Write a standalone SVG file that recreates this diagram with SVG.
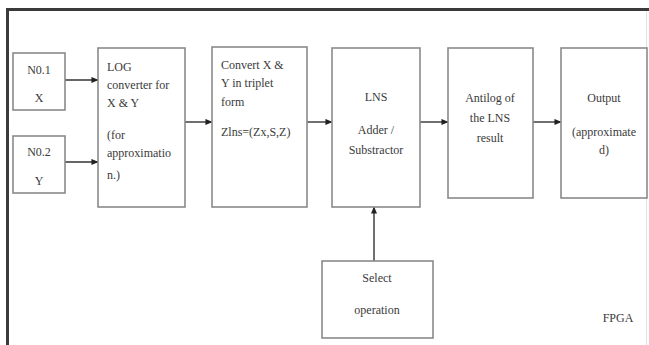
<svg xmlns="http://www.w3.org/2000/svg" width="649" height="345" viewBox="0 0 649 345">
<style>
.box{fill:#fff;stroke:#8a8a8a;stroke-width:1.6}
.t{font-family:"Liberation Serif","Times New Roman",serif;font-size:12px;fill:#3a3a3a}
.c{text-anchor:middle}
.ln{stroke:#333;stroke-width:1.4;fill:none;marker-end:url(#ah)}
</style>
<defs>
<marker id="ah" viewBox="0 0 8 8" refX="7.5" refY="4" markerWidth="7" markerHeight="7" markerUnits="userSpaceOnUse" orient="auto">
<path d="M0,0.5 L8,4 L0,7.5 Z" fill="#222"/>
</marker>
</defs>
<rect width="649" height="345" fill="#fff"/>
<g id="frame">
<path d="M7.5,345 V9.5 H649" fill="none" stroke="#3a3a3a" stroke-width="3"/>
<line x1="646.5" y1="11" x2="646.5" y2="345" stroke="#e2e2e2" stroke-width="1"/>
<text class="t c" x="618" y="322">FPGA</text>
</g>
<g id="connectors">
<line class="ln" x1="65" y1="80" x2="98" y2="80"/>
<line class="ln" x1="65" y1="162" x2="98" y2="162"/>
<line class="ln" x1="185" y1="122" x2="212" y2="122"/>
<line class="ln" x1="307" y1="122" x2="332" y2="122"/>
<line class="ln" x1="420" y1="122" x2="448" y2="122"/>
<line class="ln" x1="533" y1="122" x2="561" y2="122"/>
<line class="ln" x1="374" y1="261" x2="374" y2="207"/>
</g>
<g id="n1">
<rect class="box" x="13" y="53" width="52" height="57"/>
<text class="t c" x="39" y="74">N0.1</text>
<text class="t c" x="39" y="102">X</text>
</g>
<g id="n2">
<rect class="box" x="13" y="136" width="52" height="57"/>
<text class="t c" x="39" y="156">N0.2</text>
<text class="t c" x="39" y="185">Y</text>
</g>
<g id="log">
<rect class="box" x="98" y="48" width="87" height="159"/>
<text class="t" x="107" y="71">LOG</text>
<text class="t" x="107" y="89">converter for</text>
<text class="t" x="107" y="107">X &amp; Y</text>
<text class="t" x="107" y="139">(for</text>
<text class="t" x="107" y="157">approximatio</text>
<text class="t" x="107" y="179">n.)</text>
</g>
<g id="convert">
<rect class="box" x="212" y="47" width="95" height="160"/>
<text class="t" x="221" y="69">Convert X &amp;</text>
<text class="t" x="221" y="87">Y in triplet</text>
<text class="t" x="221" y="106">form</text>
<text class="t" x="221" y="136">Zlns=(Zx,S,Z)</text>
</g>
<g id="lns">
<rect class="box" x="332" y="48" width="88" height="159"/>
<text class="t c" x="376" y="101">LNS</text>
<text class="t c" x="376" y="134">Adder /</text>
<text class="t c" x="376" y="154">Substractor</text>
</g>
<g id="antilog">
<rect class="box" x="448" y="48" width="85" height="150"/>
<text class="t c" x="490" y="102">Antilog of</text>
<text class="t c" x="490" y="122">the LNS</text>
<text class="t c" x="490" y="142">result</text>
</g>
<g id="output">
<rect class="box" x="561" y="48" width="86" height="150"/>
<text class="t c" x="604" y="102">Output</text>
<text class="t c" x="604" y="136">(approximate</text>
<text class="t c" x="604" y="154">d)</text>
</g>
<g id="select">
<rect class="box" x="322" y="261" width="111" height="77"/>
<text class="t c" x="377" y="282">Select</text>
<text class="t c" x="377" y="314">operation</text>
</g>
</svg>
